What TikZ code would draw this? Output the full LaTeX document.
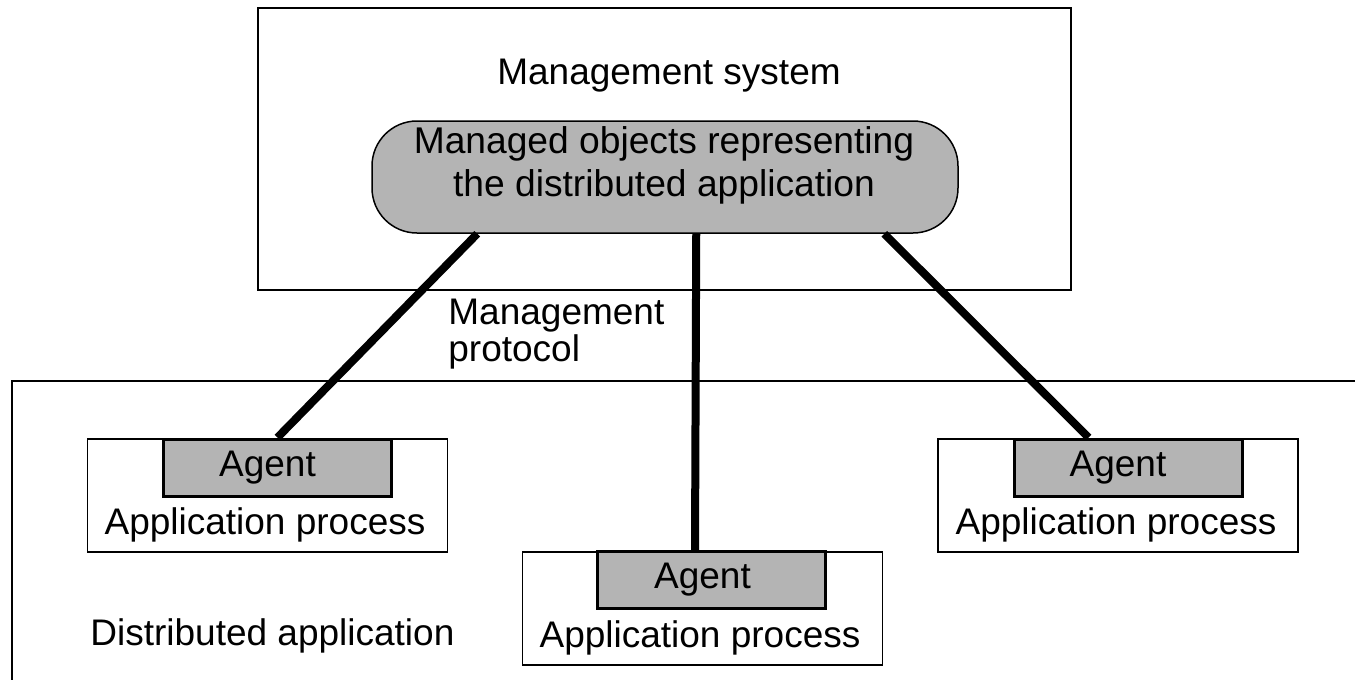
\documentclass[tikz,border=0pt]{standalone}
\usepackage{fontspec}
\setmainfont{Liberation Sans}
\usetikzlibrary{calc}
\definecolor{boxgray}{RGB}{180,180,180}
\tikzset{
  thinbox/.style={draw=black, line width=0.75pt, inner sep=0pt},
  agentbox/.style={draw=black, fill=boxgray, line width=1.5pt, inner sep=0pt, minimum width=114pt, minimum height=28.5pt},
  apbox/.style={draw=black, line width=0.75pt, inner sep=0pt, minimum width=180pt, minimum height=56.5pt},
  lbl/.style={inner sep=0pt, font=\fontsize{18.5}{18.5}\selectfont},
  biglbl/.style={inner sep=0pt, font=\fontsize{18.6}{21.5}\selectfont},
  link/.style={line width=4pt},
}
\begin{document}
\begin{tikzpicture}[x=0.5pt, y=-0.5pt]
\useasboundingbox (0,0) rectangle (1355,680);
% management system box
\node[thinbox, minimum width=406.5pt, minimum height=141pt] (ms) at (664.5,149) {};
\node[lbl, anchor=base] (mstext) at (669,84) {Management system};
% managed objects
\node[draw=black, fill=boxgray, line width=0.75pt, rounded corners=22.5pt, minimum width=293pt, minimum height=56pt, inner sep=0pt] (mo) at (665,177) {};
\node[biglbl, align=center] (motext) at (664,165) {Managed objects representing\\the distributed application};
% distributed application region
\coordinate (dtl) at (12,381);
\draw[line width=0.75pt] (12,680) -- (dtl) -- (1355,381);
\node[lbl, anchor=base west] (datext) at (90,645) {Distributed application};
% protocol label
\node[lbl, align=left, anchor=north west] (mp) at (448,299) {Management\\protocol};
% application processes
\node[apbox] (apL) at (267.5,495.5) {};
\node[agentbox] (agL) at (277,467.5) {};
\node[lbl] at (apL |- agL) {Agent};
\node[lbl] (apLt) at (265,525) {Application process};

\node[apbox] (apM) at (702.5,608.5) {};
\node[agentbox] (agM) at (711.5,580) {};
\node[lbl] at (apM |- agM) {Agent};
\node[lbl] (apMt) at (700,638) {Application process};

\node[apbox] (apR) at (1118,495.5) {};
\node[agentbox] (agR) at (1128,467.5) {};
\node[lbl] at (apR |- agR) {Agent};
\node[lbl] (apRt) at (1116,525) {Application process};
% links
\draw[link] ($(mo.south west)+(106,0)$) -- ($(agL.north west)+(116,0)$);
\draw[link] ($(mo.south west)+(325,0)$) -- ($(agM.north west)+(99,0)$);
\draw[link] ($(mo.south west)+(513,0)$) -- ($(agR.north west)+(76,0)$);
\end{tikzpicture}
\end{document}
